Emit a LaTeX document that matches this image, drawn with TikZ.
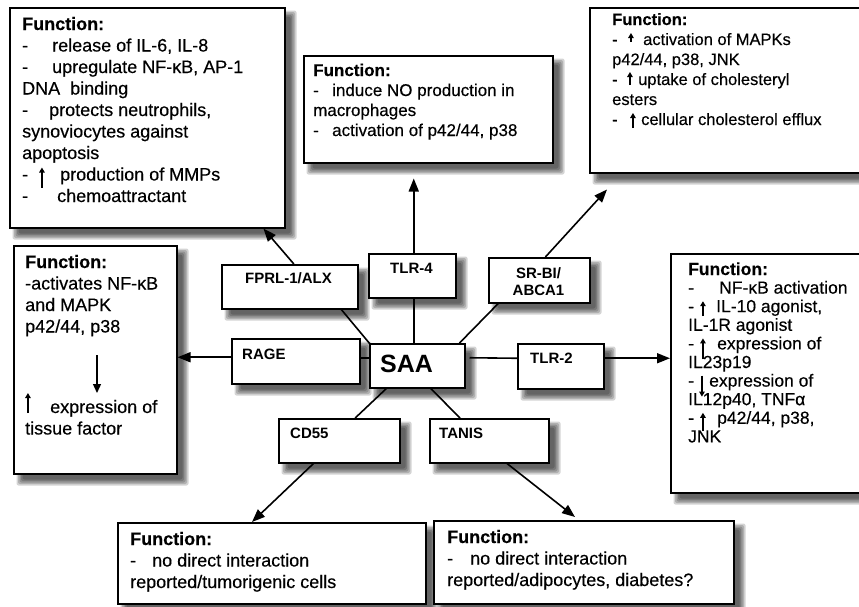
\documentclass[tikz,border=0pt]{standalone}
\usepackage{fontspec}
\setmainfont{Liberation Sans}
\newfontfamily\bodyf{Liberation Sans}[FakeBold=0.35]
\usetikzlibrary{arrows.meta,calc}
\newcommand\bshadow[4]{%
  \foreach \e in {4.5,3,1.5,0,-1.5}{%
    \fill[black,opacity=0.17,rounded corners=2pt] ({#1+8-\e},{#2+8-\e}) rectangle ({#3+8+\e},{#4+8+\e});
  }%
}
\newcommand\lns[1]{\begin{tabular}[t]{@{}l@{}}#1\end{tabular}}
\newcommand\clns[1]{\begin{tabular}[t]{@{}c@{}}#1\end{tabular}}
% drawn up / down arrows inside the text (start, end relative to baseline)
\newcommand\upar[2]{\smash{\tikz[x=1pt,y=1pt,baseline=0pt]{\draw[line width=1.2pt,-{Triangle[length=5pt,width=5.5pt]}] (2.75,#1) -- (2.75,#2);}}}
\tikzset{
  bx/.style={draw=black, line width=1.5pt, fill=white, anchor=north west, inner sep=0pt},
  txtA/.style={anchor=base west, inner sep=0pt, font=\bodyf\fontsize{18}{21.5}\selectfont},
  txtB/.style={anchor=base west, inner sep=0pt, font=\bodyf\fontsize{17}{20}\selectfont},
  txtC/.style={anchor=base west, inner sep=0pt, font=\bodyf\fontsize{16.5}{20}\selectfont},
  txtD/.style={anchor=base west, inner sep=0pt, font=\bodyf\fontsize{17.5}{18.6}\selectfont},
  rec/.style={anchor=base west, inner sep=0pt, font=\bfseries\fontsize{15}{17}\selectfont},
  conn/.style={line width=1.6pt},
  arr/.style={conn, -{Triangle[length=13pt,width=10pt]}},
}
\begin{document}
\begin{tikzpicture}[x=1pt,y=-1pt]
\path[use as bounding box, clip] (0,0) rectangle (859,606);
\fill[white] (0,0) rectangle (859,606);
% shadows
\bshadow{9}{7}{284}{227}
\bshadow{303}{55}{552}{162}
\bshadow{589}{7}{870}{172}
\bshadow{13}{245}{176}{473}
\bshadow{670}{253}{870}{492}
\bshadow{117}{522}{425}{603}
\bshadow{433}{520}{733}{603}
\bshadow{221}{264}{357}{308}
\bshadow{368}{253}{455}{297}
\bshadow{488}{257}{589}{302}
\bshadow{231}{338}{359}{383}
\bshadow{369}{343}{464}{387}
\bshadow{517}{343}{603}{388}
\bshadow{278}{418}{399}{462}
\bshadow{429}{418}{548}{462}
% function boxes
\node[bx, minimum width=275pt, minimum height=220pt] (f1) at (9,7) {};
\node[bx, minimum width=249pt, minimum height=107pt] (f2) at (303,55) {};
\node[bx, minimum width=281pt, minimum height=165pt] (f3) at (589,7) {};
\node[bx, minimum width=163pt, minimum height=228pt] (f4) at (13,245) {};
\node[bx, minimum width=200pt, minimum height=239pt] (f5) at (670,253) {};
\node[bx, minimum width=308pt, minimum height=81pt] (f6) at (117,522) {};
\node[bx, minimum width=300pt, minimum height=83pt] (f7) at (433,520) {};
% receptor boxes
\node[bx, minimum width=136pt, minimum height=44pt] (fprl) at (221,264) {};
\node[bx, minimum width=87pt, minimum height=44pt] (tlr4) at (368,253) {};
\node[bx, minimum width=101pt, minimum height=45pt] (srbi) at (488,257) {};
\node[bx, minimum width=128pt, minimum height=45pt] (rage) at (231,338) {};
\node[bx, minimum width=95pt, minimum height=44pt] (saa) at (369,343) {};
\node[bx, minimum width=86pt, minimum height=45pt] (tlr2) at (517,343) {};
\node[bx, minimum width=121pt, minimum height=44pt] (cd55) at (278,418) {};
\node[bx, minimum width=119pt, minimum height=44pt] (tanis) at (429,418) {};
% receptor labels
\node[rec] (lfprl) at (245,283) {FPRL-1/ALX};
\node[rec] (ltlr4) at (390,273) {TLR-4};
\node[rec, anchor=base] (lsrbi) at (538.5,278) {\clns{SR-BI/\\ABCA1}};
\node[rec] (lrage) at (242,359) {RAGE};
\node[anchor=base west, inner sep=0pt, font=\bfseries\fontsize{25}{28}\selectfont] (lsaa) at (380,372) {SAA};
\node[rec] (ltlr2) at (530,363) {TLR-2};
\node[rec] (lcd55) at (290,438) {CD55};
\node[rec] (ltanis) at (439,438) {TANIS};
% function texts
\node[txtA] (t1) at (22,30) {\lns{\textbf{Function:}\\
\makebox[30pt][l]{-}release of IL-6, IL-8\\
\makebox[30pt][l]{-}upregulate NF-κB, AP-1\\
DNA\hspace{10pt}binding\\
\makebox[27pt][l]{-}protects neutrophils,\\
synoviocytes against\\
apoptosis\\
\makebox[17pt][l]{-}\makebox[21pt][l]{\upar{-7}{13}}production of MMPs\\
\makebox[35pt][l]{-}chemoattractant}};
\node[txtB] (t2) at (313,76) {\lns{\textbf{Function:}\\
\makebox[19pt][l]{-}induce NO production in\\
macrophages\\
\makebox[19pt][l]{-}activation of p42/44, p38}};
\node[txtC] (t3) at (612,25) {\lns{\textbf{Function:}\\
\makebox[16pt][l]{-}\makebox[15pt][l]{\upar{3}{12}}activation of MAPKs\\
p42/44, p38, JNK\\
\makebox[15pt][l]{-}\makebox[11pt][l]{\upar{0}{13}}uptake of cholesteryl\\
esters\\
\makebox[18pt][l]{-}\makebox[11pt][l]{\upar{-3}{12}}cellular cholesterol efflux}};
\node[txtA] (t4a) at (25,268) {\lns{\textbf{Function:}\\
-activates NF-κB\\
and MAPK\\
p42/44, p38}};
\node[txtA] (t4b) at (25,413) {\lns{\makebox[25pt][l]{\upar{0}{20}}expression of\\
tissue factor}};
\node[txtD] (t5) at (688,275) {\lns{\textbf{Function:}\\
\makebox[31pt][l]{-}NF-κB activation\\
\makebox[12pt][l]{-}\makebox[16pt][l]{\upar{-4}{11}}IL-10 agonist,\\
IL-1R agonist\\
\makebox[12pt][l]{-}\makebox[17pt][l]{\upar{-10}{11}}expression of\\
IL23p19\\
\makebox[11pt][l]{-}\makebox[10pt][l]{\upar{11}{-10}}expression of\\
IL12p40, TNFα\\
\makebox[12pt][l]{-}\makebox[17pt][l]{\upar{-7}{11}}p42/44, p38,\\
JNK}};
\node[txtA] (t6) at (130,545) {\lns{\textbf{Function:}\\
\makebox[22pt][l]{-}no direct interaction\\
reported/tumorigenic cells}};
\node[txtA] (t7) at (447,543) {\lns{\textbf{Function:}\\
\makebox[23pt][l]{-}no direct interaction\\
reported/adipocytes, diabetes?}};
% coordinates
\coordinate (t4tip) at ($(tlr4.north |- f2.south)+(1.5,15)$);
\coordinate (srtip) at ($(f3.south west)+(18,16)$);
\coordinate (fptip) at ($(f1.south west)!0.92!(f1.south east)$);
\coordinate (cdtip) at ($(f6.north west)+(135,0)$);
\coordinate (tntip) at ($(f7.north west)+(142,-3)$);
\coordinate (rdA) at ($(f4.north west)+(84,110)$);
\coordinate (rdB) at ($(f4.north west)+(84,148)$);
% SAA to receptors
\draw[conn] ($(saa.north west)+(1,1)$) -- ($(fprl.south west)!0.875!(fprl.south east)$);
\draw[conn] ($(tlr4.south)+(1.5,0)$) -- ($(tlr4.south |- saa.north)+(1.5,0)$);
\draw[conn] ($(saa.north east)+(-6,0)$) -- ($(srbi.south west)!0.1!(srbi.south east)$);
\draw[conn] ($(rage.east)+(0,-3)$) -- ($(rage.east -| saa.west)+(0,-3)$);
\draw[conn] ($(saa.east)+(4,-8)$) -- ($(tlr2.west)+(0,-8)$);
\draw[conn] ($(saa.south west)!0.18!(saa.south east)$) -- ($(cd55.north west)!0.63!(cd55.north east)$);
\draw[conn] ($(saa.south west)!0.64!(saa.south east)$) -- ($(tanis.north west)+(31,0)$);
% receptors to functions
\draw[arr] ($(fprl.north west)!0.53!(fprl.north east)$) -- (fptip);
\draw[arr] ($(tlr4.north)+(1.5,0)$) -- (t4tip);
\draw[arr] ($(srbi.north west)!0.56!(srbi.north east)$) -- (srtip);
\draw[arr] ($(rage.west)+(0,-4)$) -- ($(rage.west -| f4.east)+(0,-4)$);
\draw[arr] ($(tlr2.east)+(0,-8)$) -- ($(tlr2.east -| f5.west)+(0,-8)$);
\draw[arr] ($(cd55.south west)!0.29!(cd55.south east)$) -- (cdtip);
\draw[arr] ($(tanis.south west)+(78,0)$) -- (tntip);
\draw[line width=1.3pt, -{Triangle[length=9pt,width=8pt]}] (rdA) -- (rdB);
\end{tikzpicture}
\end{document}
